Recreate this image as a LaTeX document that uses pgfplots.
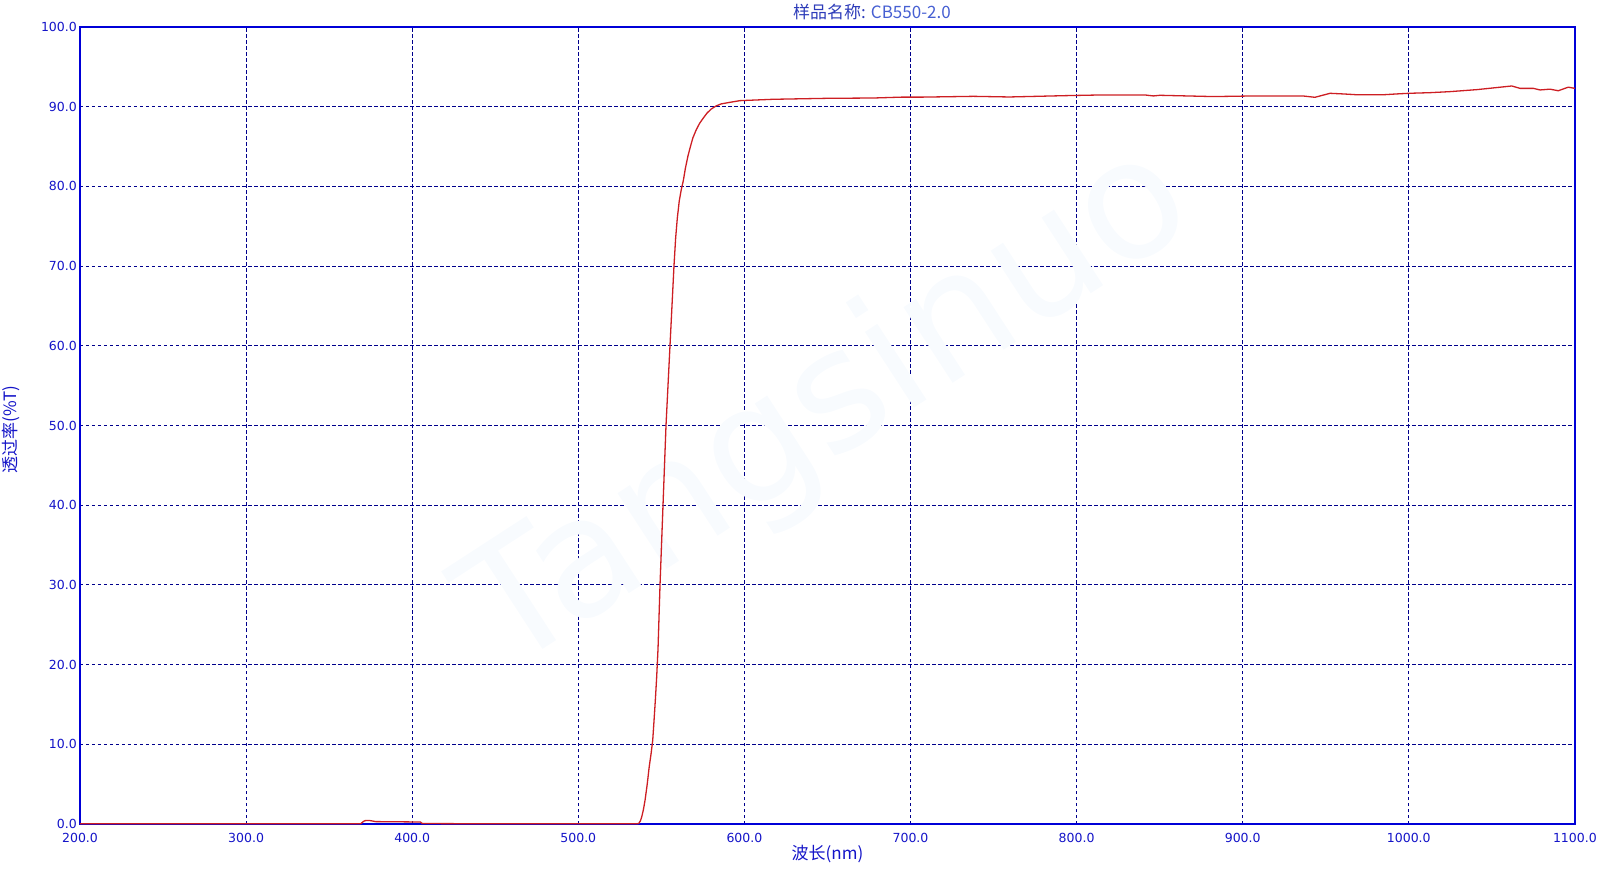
\documentclass[border=0pt]{standalone}
\usepackage{fontspec}
\setmainfont{DejaVu Sans}
\newfontfamily\cjk{Noto Sans CJK SC}
\usepackage{pgfplots}
\pgfplotsset{compat=1.18}
\definecolor{frameblue}{RGB}{0,0,215}
\definecolor{tickblue}{RGB}{20,20,200}
\definecolor{gridnavy}{RGB}{0,0,140}
\definecolor{titleA}{RGB}{45,60,185}
\definecolor{titleB}{RGB}{70,95,210}
\definecolor{curvered}{RGB}{205,30,35}
\definecolor{wm}{RGB}{248,251,254}
\begin{document}
\begin{tikzpicture}
\begin{axis}[
  at={(0,0)}, anchor=south west,
  scale only axis, width=1495pt, height=797pt,
  xmin=200, xmax=1100, ymin=0, ymax=100,
  xtick={200,300,...,1100}, ytick={0,10,...,100},
  clip=false,
  grid=major,
  major grid style={draw=gridnavy, line width=1.1pt, dash pattern=on 3.5pt off 2.5pt},
  axis line style={draw=frameblue, line width=2.6pt},
  major tick length=0pt,
  tick style={draw=none},
  /pgf/number format/.cd, fixed, fixed zerofill, precision=1, 1000 sep={}, assume math mode=true,
  /pgfplots/.cd,
  ticklabel style={font=\fontsize{12.5}{14}\selectfont, text=tickblue},
  xticklabel style={anchor=north, inner sep=0pt, yshift=-9pt},
  yticklabel style={anchor=east, inner sep=0pt, xshift=-3pt},
  xlabel={\cjk 波长(nm)},
  xlabel style={at={([yshift=-30pt]axis description cs:0.5,0)}, anchor=center, inner sep=0pt, font=\fontsize{17}{19}\selectfont, text=tickblue},
  ylabel={\cjk 透过率(\%T)},
  ylabel style={at={([xshift=-69pt,yshift=-4pt]axis description cs:0,0.5)}, anchor=center, inner sep=0pt, font=\fontsize{17}{19}\selectfont, text=tickblue},
  title={\cjk\textcolor{titleA}{样品名称:} \textcolor{titleB}{CB550-2.0}},
  title style={at={([xshift=44.5pt,yshift=9pt]axis description cs:0.5,1)}, anchor=center, inner sep=0pt, font=\fontsize{17}{19}\selectfont},
]
\node[rotate=33, text=wm, font=\fontsize{165}{170}\selectfont] at (axis cs:651,52) {Tangsinuo};
\addplot[color=curvered, line width=1.3pt, line join=round] coordinates {
(200,0.02) (300,0.02) (369,0.02) (370.2,0.25) (371.5,0.42) (374,0.45) (376,0.38) (378,0.3) (390,0.28) (405,0.25) (406,0.06) (430,0.04) (480,0.02) (535.5,0.02)
(536.5,0.1) (537.4,0.4) (538.2,0.9) (539.2,1.8) (540.2,3.0) (541.5,5.0) (542.7,7.2) (543.8,8.8) (544.8,10.5) (545.6,13.0) (546.4,15.6) (547.2,18.5) (548,22) (548.6,26) (549.2,30) (550.1,35) (551,40) (551.9,45) (552.8,50) (554,55) (555.2,60) (556.4,65) (557.6,70) (558.6,73.5) (559.6,76) (560.8,78.2) (562,79.6) (563.2,80.7) (564.5,82.3) (566,83.8) (567.5,85.0) (569,86.1) (571,87.1) (573,87.9) (575,88.5) (577.5,89.2) (580,89.7) (583,90.1) (586,90.35) (591.3,90.55) (597.4,90.76) (617.4,90.93) (649.5,91.05) (677.6,91.09) (694.7,91.2) (706.7,91.2) (737.8,91.3) (759.5,91.22) (794,91.39) (814,91.47) (841.2,91.47) (846.2,91.35) (850.2,91.43) (882.3,91.27) (904.4,91.34) (936.5,91.34) (943.5,91.18) (952.6,91.68) (960.6,91.6) (968.6,91.5) (984.7,91.5) (992.7,91.6) (1000,91.68) (1012.8,91.76) (1024.8,91.89) (1040.9,92.14) (1052.9,92.4) (1062,92.6) (1067,92.3) (1075,92.3) (1079,92.1) (1085,92.2) (1090,92.0) (1096,92.45) (1100,92.3)
};
\end{axis}
\pgfresetboundingbox
\path (-80pt,-44pt) rectangle (1524pt,824pt);
\end{tikzpicture}
\end{document}
